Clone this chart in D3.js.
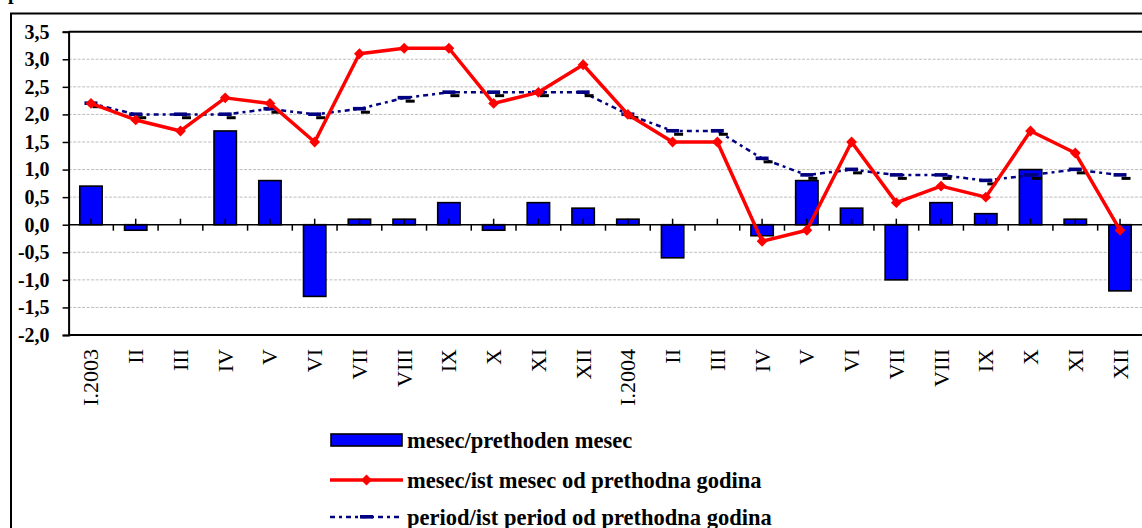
<!DOCTYPE html>
<html>
<head>
<meta charset="utf-8">
<script src="https://cdn.jsdelivr.net/npm/d3@7"></script>
<style>
    body { margin: 0; background: #fff; }
    svg { display: block; }
    .ylab text { font: bold 20px "Liberation Serif", serif; fill: #000; }
    .xlab text { font: 22px "Liberation Serif", serif; fill: #000; }
    .legend text { font: bold 22.5px "Liberation Serif", serif; fill: #000; }
</style>
</head>
<body>
<div id="chart"></div>
<script>
    // months, 2003 then 2004
    const months = ["I.2003", "II", "III", "IV", "V", "VI", "VII", "VIII", "IX", "X", "XI", "XII",
                    "I.2004", "II", "III", "IV", "V", "VI", "VII", "VIII", "IX", "X", "XI", "XII"];

    // mesec/prethoden mesec (bars)
    const monthPrev = [0.7, -0.1, 0.0, 1.7, 0.8, -1.3, 0.1, 0.1, 0.4, -0.1, 0.4, 0.3,
                       0.1, -0.6, 0.0, -0.2, 0.8, 0.3, -1.0, 0.4, 0.2, 1.0, 0.1, -1.2];

    // mesec/ist mesec od prethodna godina (red line)
    const monthYear = [2.2, 1.9, 1.7, 2.3, 2.2, 1.5, 3.1, 3.2, 3.2, 2.2, 2.4, 2.9,
                       2.0, 1.5, 1.5, -0.3, -0.1, 1.5, 0.4, 0.7, 0.5, 1.7, 1.3, -0.1];

    // period/ist period od prethodna godina (dotted navy line)
    const periodYear = [2.2, 2.0, 2.0, 2.0, 2.1, 2.0, 2.1, 2.3, 2.4, 2.4, 2.4, 2.4,
                        2.0, 1.7, 1.7, 1.2, 0.9, 1.0, 0.9, 0.9, 0.8, 0.9, 1.0, 0.9];

    const yTicks = [-2.0, -1.5, -1.0, -0.5, 0.0, 0.5, 1.0, 1.5, 2.0, 2.5, 3.0, 3.5];

    const legendLabels = ["mesec/prethoden mesec",
                          "mesec/ist mesec od prethodna godina",
                          "period/ist period od prethodna godina"];

    (function () {
        const width = 1142, height = 528;
        const pLeft = 68.6, pRight = 1142.4, pTop = 31.7, pBottom = 335;

        const svg = d3.select("#chart").append("svg")
            .attr("width", width)
            .attr("height", height);

        const idx = d3.range(months.length);

        const x = d3.scaleBand()
            .domain(idx)
            .range([pLeft, pRight])
            .paddingInner(0.5)
            .paddingOuter(0.25);
        const step = x.step();
        const cx = function (i) { return x(i) + x.bandwidth() / 2; };

        const y = d3.scaleLinear()
            .domain([-2, 3.5])
            .range([pBottom, pTop]);

        // cut-off title letter at the very top
        svg.append("text")
            .attr("x", 8).attr("y", -1.5)
            .style("font", "bold 20px 'Liberation Serif', serif")
            .text("p");

        // outer chart frame (right and bottom edges lie outside the picture)
        svg.append("rect")
            .attr("x", 11).attr("y", 13.5)
            .attr("width", 1160).attr("height", 700)
            .attr("fill", "none")
            .attr("stroke", "#000")
            .attr("stroke-width", 2);

        // grid lines
        svg.append("g").selectAll("line")
            .data(yTicks.filter(function (d) { return d !== 0 && d !== 3.5 && d !== -2; }))
            .enter().append("line")
            .attr("x1", pLeft).attr("x2", width)
            .attr("y1", function (d) { return y(d); })
            .attr("y2", function (d) { return y(d); })
            .attr("stroke", "#bdbdbd")
            .attr("stroke-width", 1)
            .attr("stroke-dasharray", "3,1.5");

        // plot area border (top, bottom)
        svg.append("line")
            .attr("x1", pLeft).attr("x2", width + 5)
            .attr("y1", pTop).attr("y2", pTop)
            .attr("stroke", "#000").attr("stroke-width", 2);
        svg.append("line")
            .attr("x1", pLeft).attr("x2", width + 5)
            .attr("y1", pBottom).attr("y2", pBottom)
            .attr("stroke", "#000").attr("stroke-width", 2);

        // bars
        svg.append("g").selectAll("rect")
            .data(idx.filter(function (i) { return monthPrev[i] !== 0; }))
            .enter().append("rect")
            .attr("x", function (i) { return x(i); })
            .attr("width", x.bandwidth())
            .attr("y", function (i) { return y(Math.max(0, monthPrev[i])); })
            .attr("height", function (i) { return Math.abs(y(monthPrev[i]) - y(0)); })
            .attr("fill", "#0000ff")
            .attr("stroke", "#000")
            .attr("stroke-width", 1.6);

        // zero axis with its ticks
        const zero = svg.append("g");
        zero.append("line")
            .attr("x1", pLeft).attr("x2", width)
            .attr("y1", y(0)).attr("y2", y(0))
            .attr("stroke", "#000").attr("stroke-width", 1.6);
        zero.selectAll("line.up")
            .data(idx)
            .enter().append("line")
            .attr("class", "up")
            .attr("x1", cx).attr("x2", cx)
            .attr("y1", y(0) - 6).attr("y2", y(0))
            .attr("stroke", "#000").attr("stroke-width", 1.5);
        zero.selectAll("line.down")
            .data(idx.slice(1))
            .enter().append("line")
            .attr("class", "down")
            .attr("x1", function (i) { return x(i) - step * 0.25; })
            .attr("x2", function (i) { return x(i) - step * 0.25; })
            .attr("y1", y(0)).attr("y2", y(0) + 6)
            .attr("stroke", "#000").attr("stroke-width", 1.5);

        // y axis
        const yAxis = svg.append("g")
            .attr("class", "ylab")
            .attr("transform", "translate(" + pLeft + ",0)")
            .call(d3.axisLeft(y)
                .tickValues(yTicks)
                .tickSize(6)
                .tickPadding(13)
                .tickFormat(function (d) { return d3.format(".1f")(d).replace(".", ",").replace("−", "-"); }));
        yAxis.select(".domain").attr("stroke-width", 2).attr("stroke", "#000");
        yAxis.selectAll(".tick line").attr("stroke-width", 1.5).attr("stroke", "#000");

        // x labels (rotated)
        svg.append("g")
            .attr("class", "xlab")
            .selectAll("text")
            .data(idx)
            .enter().append("text")
            .attr("transform", function (i) { return "translate(" + cx(i) + ",349) rotate(-90)"; })
            .attr("text-anchor", "end")
            .attr("dy", "0.34em")
            .text(function (i) { return months[i]; });

        // period line
        const periodLine = d3.line()
            .x(function (d, i) { return cx(i); })
            .y(function (d) { return y(d); });

        svg.append("path")
            .datum(periodYear)
            .attr("d", periodLine)
            .attr("fill", "none")
            .attr("stroke", "#000080")
            .attr("stroke-width", 2.5)
            .attr("stroke-dasharray", "5,4,3,4");

        function periodMarker(g, px, py) {
            g.append("rect")
                .attr("x", px + 1.5).attr("y", py + 1.8)
                .attr("width", 9).attr("height", 3)
                .attr("fill", "#000");
            g.append("rect")
                .attr("x", px - 6.5).attr("y", py - 2)
                .attr("width", 13).attr("height", 3.6)
                .attr("fill", "#000080");
        }

        const pm = svg.append("g");
        periodYear.forEach(function (d, i) { periodMarker(pm, cx(i), y(d)); });

        // red line
        const redLine = d3.line()
            .x(function (d, i) { return cx(i); })
            .y(function (d) { return y(d); });

        svg.append("path")
            .datum(monthYear)
            .attr("d", redLine)
            .attr("fill", "none")
            .attr("stroke", "#ff0000")
            .attr("stroke-width", 3.5)
            .attr("stroke-linejoin", "round");

        const diamond = d3.symbol().type(d3.symbolDiamond2).size(75);
        svg.append("g").selectAll("path")
            .data(monthYear)
            .enter().append("path")
            .attr("d", diamond)
            .attr("transform", function (d, i) { return "translate(" + cx(i) + "," + y(d) + ")"; })
            .attr("fill", "#ff0000");

        // legend
        const legend = svg.append("g").attr("class", "legend");
        const lx = 331, lw = 71, tx = 407;
        const rows = [440, 480, 517];

        legend.append("rect")
            .attr("x", lx).attr("y", rows[0] - 6)
            .attr("width", lw).attr("height", 12)
            .attr("fill", "#0000ff")
            .attr("stroke", "#000").attr("stroke-width", 1.6);

        legend.append("line")
            .attr("x1", lx - 1).attr("x2", lx + lw + 1)
            .attr("y1", rows[1]).attr("y2", rows[1])
            .attr("stroke", "#ff0000").attr("stroke-width", 3.5);
        legend.append("path")
            .attr("d", diamond)
            .attr("transform", "translate(" + (lx + lw / 2) + "," + rows[1] + ")")
            .attr("fill", "#ff0000");

        legend.append("line")
            .attr("x1", lx - 1).attr("x2", lx + lw - 2)
            .attr("y1", rows[2]).attr("y2", rows[2])
            .attr("stroke", "#000080").attr("stroke-width", 2.5)
            .attr("stroke-dasharray", "5,4,3,4");
        legend.append("rect")
            .attr("x", lx + lw / 2 - 6.5).attr("y", rows[2] - 2)
            .attr("width", 13).attr("height", 3.6)
            .attr("fill", "#000080");

        legend.selectAll("text")
            .data(legendLabels)
            .enter().append("text")
            .attr("x", tx)
            .attr("y", function (d, i) { return rows[i] + 7.5; })
            .text(function (d) { return d; });
    })();
</script>
</body>
</html>
